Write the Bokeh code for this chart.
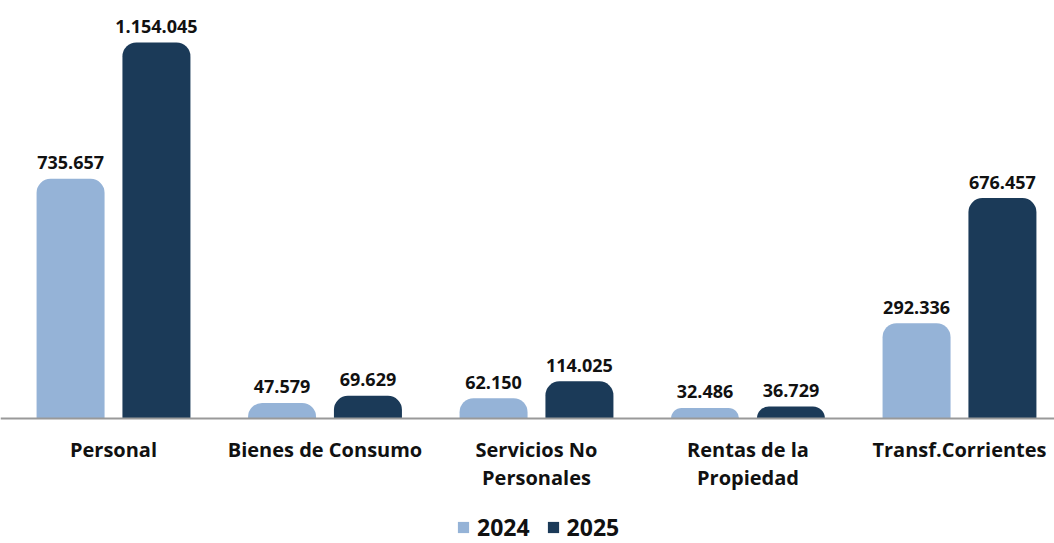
from bokeh.plotting import figure
from bokeh.models import ColumnDataSource, FixedTicker, Legend, LegendItem, Range1d
from bokeh.transform import dodge
from bokeh.core.properties import value
from bokeh.embed import file_html
from bokeh.resources import INLINE

categories = ["Personal", "Bienes de Consumo", "Servicios No\nPersonales",
              "Rentas de la\nPropiedad", "Transf.Corrientes"]
values_2024 = [735657, 47579, 62150, 32486, 292336]
values_2025 = [1154045, 69629, 114025, 36729, 676457]
series_names = ["2024", "2025"]
colors = ["#95B3D7", "#1B3A58"]

def fmt(v):
    return f"{v:,}".replace(",", ".")

idx = list(range(len(categories)))
src = ColumnDataSource(dict(
    x=idx,
    v2024=values_2024, v2025=values_2025,
    l2024=[fmt(v) for v in values_2024],
    l2025=[fmt(v) for v in values_2025],
))

p = figure(width=1054, height=543, output_backend="svg", toolbar_location=None,
           x_range=Range1d(-0.5343, 4.4492), y_range=Range1d(-383660, 1282956),
           min_border_top=0, min_border_left=0, min_border_right=0, min_border_bottom=0,
           outline_line_color=None, background_fill_color="white", border_fill_color="white")

off = 0.203
bw = 0.3215
r1 = p.vbar(x=dodge("x", -off), top="v2024", width=bw, source=src,
            fill_color=colors[0], line_color=None, border_radius=(14, 14, 0, 0))
r2 = p.vbar(x=dodge("x", off), top="v2025", width=bw, source=src,
            fill_color=colors[1], line_color=None, border_radius=(14, 14, 0, 0))

for key, o in (("2024", -off), ("2025", off)):
    p.text(x=dodge("x", o), y="v" + key, text="l" + key, source=src,
           text_align="center", text_baseline="alphabetic", y_offset=-16,
           text_font=value("Open Sans"), text_font_style="bold",
           text_font_size="18px", text_color="#111111")

p.xgrid.visible = False
p.ygrid.visible = False
p.yaxis.visible = False

ax = p.xaxis[0]
ax.fixed_location = 0
ax.ticker = FixedTicker(ticks=idx)
ax.major_label_overrides = {i: c for i, c in zip(idx, categories)}
ax.major_tick_line_color = None
ax.minor_tick_line_color = None
ax.axis_line_color = "#999999"
ax.axis_line_width = 2
ax.major_label_standoff = 12
ax.major_label_text_font = "Open Sans"
ax.major_label_text_font_style = "bold"
ax.major_label_text_font_size = "20px"
ax.major_label_text_color = "#111111"
ax.major_label_text_line_height = 1.03

legend = Legend(items=[LegendItem(label=series_names[0], renderers=[r1]),
                       LegendItem(label=series_names[1], renderers=[r2])],
                orientation="horizontal", location=(456, 0),
                glyph_width=14, glyph_height=14, label_standoff=7, spacing=16,
                label_text_font="Open Sans", label_text_font_style="bold",
                label_text_font_size="23px", label_text_color="#111111",
                border_line_color=None, background_fill_alpha=0,
                padding=0, margin=0)
p.add_layout(legend, "center")

open("out.html", "w").write(file_html(p, INLINE))
